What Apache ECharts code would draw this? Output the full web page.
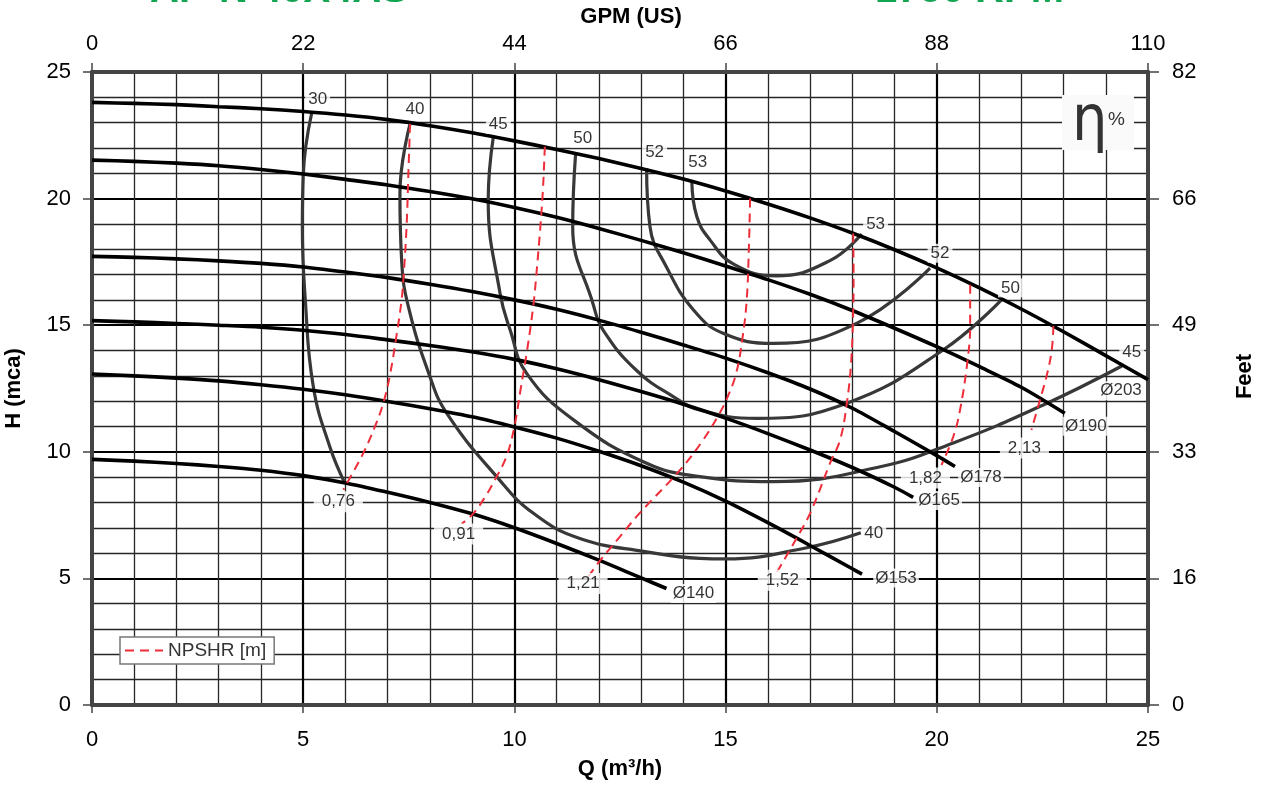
<!DOCTYPE html>
<html>
<head>
<meta charset="utf-8">
<script src="https://cdn.jsdelivr.net/npm/echarts@6/dist/echarts.min.js"></script>
<style>
  html, body { margin: 0; padding: 0; background: #fff; }
  #chart { width: 1267px; height: 786px; }
</style>
</head>
<body>
<div id="chart"></div>
<script>
// ---- Axis scales ----
const flowTicks = [0, 5, 10, 15, 20, 25];          // Q (m³/h)
const headTicks = [0, 5, 10, 15, 20, 25];          // H (mca)
const gpmTicks  = [0, 22, 44, 66, 88, 110];        // GPM (US), same positions as flowTicks
const feetTicks = [0, 16, 33, 49, 66, 82];         // Feet, same positions as headTicks

// ---- Impeller Q-H curves [Q m³/h, H m] ----
const diameterNames = ['Ø203', 'Ø190', 'Ø178', 'Ø165', 'Ø153', 'Ø140'];
const qh203 = [[0,23.8],[1,23.76],[2,23.71],[3,23.63],[4,23.55],[5,23.44],[6,23.3],[7,23.12],[8,22.88],[9,22.6],[10,22.28],[11,21.94],[12,21.58],[13,21.19],[14,20.77],[15,20.3],[16,19.79],[17,19.24],[18,18.64],[19,17.98],[20,17.26],[21,16.48],[22,15.64],[23,14.74],[24,13.8],[25,12.85]];
const qh190 = [[0,21.52],[1,21.47],[2,21.4],[3,21.3],[4,21.15],[5,20.97],[6,20.76],[7,20.54],[8,20.28],[9,19.99],[10,19.65],[11,19.26],[12,18.82],[13,18.35],[14,17.86],[15,17.34],[16,16.8],[17,16.22],[18,15.58],[19,14.88],[20,14.15],[21,13.37],[22,12.55],[23.03,11.52]];
const qh178 = [[0,17.72],[1,17.68],[2,17.62],[3,17.54],[4,17.44],[5,17.3],[6,17.1],[7,16.88],[8,16.62],[9,16.33],[10,16.0],[11,15.63],[12,15.2],[13,14.72],[14,14.22],[15,13.7],[16,13.12],[17,12.48],[18,11.72],[19,10.8],[20,9.85],[20.43,9.42]];
const qh165 = [[0,15.18],[1,15.13],[2,15.07],[3,15.0],[4,14.92],[5,14.8],[6,14.63],[7,14.42],[8,14.2],[9,13.95],[10,13.65],[11,13.28],[12,12.85],[13,12.38],[14,11.88],[15,11.33],[16,10.72],[17,10.07],[18,9.38],[19,8.6],[19.44,8.2]];
const qh153 = [[0,13.07],[1,13.0],[2,12.91],[3,12.8],[4,12.65],[5,12.47],[6,12.25],[7,11.99],[8,11.7],[9,11.38],[10,10.98],[11,10.54],[12,10.02],[13,9.45],[14,8.8],[15,8.05],[16,7.2],[17,6.3],[18,5.38],[18.23,5.17]];
const qh140 = [[0,9.7],[1,9.63],[2,9.54],[3,9.42],[4,9.27],[5,9.06],[6,8.77],[7,8.4],[8,8.0],[9,7.55],[10,7.0],[11,6.38],[12,5.72],[13,5.02],[13.6,4.6]];

// ---- Iso-efficiency curves (η %) ----
const effNames = ['30', '40', '45', '50', '52', '53'];
const eta30 = [[5.2,23.37],[5.0,20.9],[4.98,18.9],[5.05,16],[5.24,12.57],[5.63,10.2],[5.99,8.75]];
const eta40 = [[7.53,22.95],[7.29,20.2],[7.33,17.57],[7.49,15.73],[8.0,12.97],[8.4,11.52],[9.58,9.02],[10.45,7.57],[11.55,6.58],[13.13,6.05],[14.39,5.79],[15.0,5.77],[16.92,6.21],[18.2,6.8]];
const eta45 = [[9.5,22.42],[9.38,19.94],[9.66,16.26],[9.9,14.81],[10.29,13.1],[11.4,11.26],[13.13,9.55],[14.39,9.02],[16.13,8.82],[18.66,9.41],[20.39,10.35],[22.52,11.85],[24.38,13.39]];
const eta50 = [[11.45,21.8],[11.38,18.9],[11.87,15.8],[12.1,14.81],[12.9,13.2],[13.76,12.18],[14.39,11.65],[15.74,11.32],[17.87,11.92],[20.15,14.02],[21.53,16.0]];
const eta52 = [[13.13,21.2],[13.21,18.89],[13.6,17.3],[14.24,15.6],[14.94,14.68],[16.13,14.28],[18.1,15.07],[19.84,17.25]];
const eta53 = [[14.2,20.7],[14.32,19.28],[14.63,18.37],[15.2,17.4],[16.2,16.95],[17.47,17.55],[18.22,18.6]];

// ---- NPSH required iso-lines [m] ----
const npshNames = ['0,76', '0,91', '1,21', '1,52', '1,82', '2,13'];
const npsh076 = [[7.53,22.95],[7.49,21],[7.45,19],[7.38,17],[7.33,16],[7.21,14.6],[7.05,13],[6.9,11.95],[6.7,11],[6.42,9.94],[6.15,9.1],[5.95,8.5]];
const npsh091 = [[10.72,22.05],[10.68,20.5],[10.62,19],[10.52,17],[10.45,15.8],[10.3,14],[10.15,12.5],[10.0,11],[9.82,9.85],[9.58,9.02],[9.3,8.2],[9.03,7.57],[8.75,7.15]];
const npsh121 = [[15.58,20.0],[15.55,18],[15.5,16.0],[15.4,14.5],[15.25,13.1],[15.03,12.1],[14.85,11.5],[14.47,10.47],[13.92,9.28],[12.95,7.55],[12.45,6.55],[12.05,5.75],[11.72,5.0]];
const npsh152 = [[18.02,18.62],[18.03,17],[18.02,15.5],[17.97,13.5],[17.87,11.92],[17.71,10.47],[17.47,9.54],[17.0,7.57],[16.65,6.5],[16.2,5.2]];
const npsh182 = [[20.79,16.6],[20.79,15],[20.72,13.5],[20.55,11.65],[20.39,10.6],[20.11,9.48]];
const npsh213 = [[22.76,14.97],[22.72,14],[22.6,13.0],[22.4,11.8],[22.24,10.86]];

const legendName = 'NPSHR [m]';

// ---- Styling helpers ----
const FONT = "'Liberation Sans', Arial, sans-serif";
const pumpCurves = [qh203, qh190, qh178, qh165, qh153, qh140];
const effCurves = [eta30, eta40, eta45, eta50, eta52, eta53];
const npshCurves = [npsh076, npsh091, npsh121, npsh152, npsh182, npsh213];

// label offsets in pixels (label centre relative to the curve end it names)
const diamOffsets = [[-27, 11], [21, 13], [26, 11], [26, 3], [34, 4], [27, 5]];
const effTopOffsets = [[6, -14], [5, -15], [5, -13], [7, -15], [8, -16], [9, -19]];
const effEndOffsets = [null, [13, 0], [10, -14], [9, -12], [10, -15], [14, -10]];
const npshOffsets = [[-5, 12], [-3, 10], [-4, 5], [6, 7], [-16, 13], [-7, 18]];

const labelItems = [];
function addLabel(pt, text, off, pad) {
  labelItems.push({
    value: pt,
    label: { show: true, formatter: text, offset: off, padding: pad || [1, 3] }
  });
}
pumpCurves.forEach((c, i) => addLabel(c[c.length - 1], diameterNames[i], diamOffsets[i], [1, 2]));
effCurves.forEach((c, i) => {
  addLabel(c[0], effNames[i], effTopOffsets[i], i === 5 ? [1, 9, 1, 3] : [1, 3]);
  if (effEndOffsets[i]) addLabel(c[c.length - 1], effNames[i], effEndOffsets[i], [1, 3]);
});
npshCurves.forEach((c, i) => addLabel(c[c.length - 1], npshNames[i], npshOffsets[i], [2, 8]));

const series = [];
effCurves.forEach((c, i) => series.push({
  type: 'line', name: 'η ' + effNames[i], data: c, smooth: 0.45, symbol: 'none',
  lineStyle: { color: '#383838', width: 3.2 }, z: 3, silent: true
}));
pumpCurves.forEach((c, i) => series.push({
  type: 'line', name: diameterNames[i], data: c, smooth: 0.3, symbol: 'none',
  lineStyle: { color: '#000', width: 3.6 }, z: 4, silent: true
}));
npshCurves.forEach((c) => series.push({
  type: 'line', name: legendName, data: c, smooth: 0.4, symbol: 'none',
  itemStyle: { color: '#ee2d3a' },
  lineStyle: { color: '#ee2d3a', width: 2, type: [9, 6] }, z: 5, silent: true
}));
series.push({
  type: 'scatter', name: 'labels', data: labelItems, symbolSize: 0, z: 10, silent: true,
  itemStyle: { color: 'rgba(0,0,0,0)' },
  label: {
    show: true, position: 'inside', align: 'center', verticalAlign: 'middle',
    color: '#000', fontSize: 17, fontFamily: FONT, backgroundColor: '#fff'
  }
});

const frame = { show: true, onZero: false, lineStyle: { color: '#444', width: 4 } };
const tickStyle = { color: '#444', width: 1.5 };
const majorGrid = { show: true, lineStyle: { color: '#000', width: 2.2 } };
const minorGrid = { show: true, lineStyle: { color: '#262626', width: 1.3 } };
const tickFont = { color: '#000', fontSize: 22, fontFamily: FONT };
const nameFont = { color: '#000', fontSize: 22, fontWeight: 'bold', fontFamily: FONT };

const option = {
  animation: false,
  backgroundColor: '#fff',
  textStyle: { fontFamily: FONT },
  grid: { left: 92, right: 119, top: 72, bottom: 81, containLabel: false, outerBoundsMode: 'none' },
  legend: {
    data: [legendName], left: 120, top: 637,
    backgroundColor: '#fff', borderColor: '#777', borderWidth: 1.5, borderRadius: 0,
    padding: [4, 8, 4, 4], itemWidth: 38, itemHeight: 14,
    itemStyle: { opacity: 0 },
    textStyle: { color: '#333', fontSize: 19, fontFamily: FONT },
    selectedMode: false
  },
  xAxis: [
    {
      type: 'value', position: 'bottom',
      min: flowTicks[0], max: flowTicks[flowTicks.length - 1], interval: flowTicks[1] - flowTicks[0],
      axisLine: frame,
      axisTick: { show: true, inside: false, length: 8, lineStyle: tickStyle },
      minorTick: { show: true, splitNumber: 5, length: 0 },
      axisLabel: Object.assign({ margin: 24 }, tickFont),
      splitLine: majorGrid, minorSplitLine: minorGrid,
      name: 'Q (m³/h)', nameLocation: 'middle', nameGap: 53, nameTextStyle: nameFont
    },
    {
      type: 'value', position: 'top',
      min: gpmTicks[0], max: gpmTicks[gpmTicks.length - 1], interval: gpmTicks[1] - gpmTicks[0],
      axisLine: frame,
      axisTick: { show: true, inside: false, length: 9, lineStyle: tickStyle },
      axisLabel: Object.assign({ margin: 17 }, tickFont),
      splitLine: { show: false },
      name: 'GPM (US)', nameLocation: 'middle', nameGap: 43,
      nameTextStyle: Object.assign({ padding: [0, 0, 0, 22] }, nameFont)
    }
  ],
  yAxis: [
    {
      type: 'value', position: 'left',
      min: headTicks[0], max: headTicks[headTicks.length - 1], interval: headTicks[1] - headTicks[0],
      axisLine: frame,
      axisTick: { show: true, inside: false, length: 9, lineStyle: tickStyle },
      minorTick: { show: true, splitNumber: 5, length: 0 },
      axisLabel: Object.assign({ margin: 21 }, tickFont),
      splitLine: majorGrid, minorSplitLine: minorGrid,
      name: 'H (mca)', nameLocation: 'middle', nameGap: 67, nameRotate: 90, nameTextStyle: nameFont
    },
    {
      type: 'value', position: 'right',
      min: headTicks[0], max: headTicks[headTicks.length - 1], interval: headTicks[1] - headTicks[0],
      axisLine: frame,
      axisTick: { show: true, inside: false, length: 11, lineStyle: tickStyle },
      axisLabel: Object.assign({ margin: 24, formatter: (v, i) => String(feetTicks[i]) }, tickFont),
      splitLine: { show: false },
      name: 'Feet', nameLocation: 'middle', nameGap: 86, nameRotate: 90,
      nameTextStyle: Object.assign({ padding: [0, 0, 0, 24] }, nameFont)
    }
  ],
  graphic: [
    // header: model and speed
    { type: 'text', left: 150, top: -29, z: 20,
      style: { text: 'AP-N 40X4AS', font: "bold 40px " + FONT, fill: '#14a553' } },
    { type: 'text', left: 875, top: -29, z: 20,
      style: { text: '1750 RPM', font: "bold 40px " + FONT, fill: '#14a553' } },
    // efficiency key
    { type: 'rect', shape: { x: 1062, y: 95, width: 72, height: 55 }, style: { fill: '#fafafa' }, z: 20 },
    { type: 'text', x: 1072, y: 91, z: 21, scaleY: 1.15,
      style: { text: 'η', font: "56px 'DejaVu Sans', " + FONT, fill: '#333' } },
    { type: 'text', x: 1108, y: 110, z: 21,
      style: { text: '%', font: "19px " + FONT, fill: '#333' } }
  ],
  series: series
};

const chart = echarts.init(document.getElementById('chart'), null, { renderer: 'canvas' });
chart.setOption(option);
</script>
</body>
</html>
